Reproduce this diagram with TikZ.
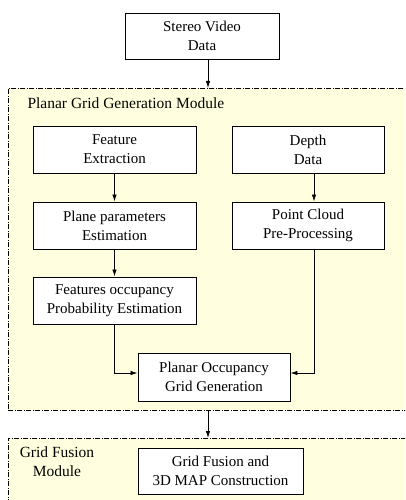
\documentclass[tikz,border=0pt]{standalone}
\usepackage{fontspec}
\setmainfont{Liberation Serif}
\usepackage{tikz}
\usetikzlibrary{positioning, arrows.meta}

\definecolor{modfill}{HTML}{FFFFDF}

\begin{document}
\begin{tikzpicture}[
    x=1pt, y=-1pt,
    >={Latex[length=7pt, width=4.5pt]},
    block/.style={draw, line width=0.9pt, fill=white, minimum height=47pt, minimum width=163pt, align=center, font=\fontsize{15}{19}\selectfont, inner sep=0pt},
    module/.style={draw, line width=0.8pt, fill=modfill, dash pattern={on 5pt off 1.5pt on 1pt off 1.5pt}, anchor=north west, inner sep=0pt},
    label/.style={font=\fontsize{15.5}{19}\selectfont, align=center},
    arrow/.style={->, line width=0.8pt},
]
\clip (0,0) rectangle (405,500);
\fill[white] (0,0) rectangle (405,500);

% Modules
\node[module, minimum width=410pt, minimum height=322pt] (pgm) at (8,88) {};
\node[label, anchor=west] (pgmlabel) at (24,103) {Planar Grid Generation Module};
\node[module, minimum width=410pt, minimum height=100pt] (gfm) at (8,438) {};
\node[label] (gfmlabel) at (57,462) {Grid Fusion\\Module};

% Input
\node[block, minimum width=154pt, minimum height=46pt] (svd) at (202,36) {Stereo Video\\Data};
\coordinate (spine) at (208,0);

% Feature branch
\node[block] (feat) at (114.5,149.5) {Feature\\Extraction};
\node[block] (plane) at (114.5,225.5) {Plane parameters\\Estimation};
\node[block] (occ) at (114.5,300.5) {Features occupancy\\Probability Estimation};

% Depth branch
\node[block, minimum width=152pt] (depth) at (308,149.5) {Depth\\Data};
\node[block, minimum width=152pt] (cloud) at (308,225.5) {Point Cloud\\Pre-Processing};

% Planar grid
\node[block, minimum width=152pt, minimum height=48pt] (pogg) at (214,377) {Planar Occupancy\\Grid Generation};

% Grid fusion
\node[block, minimum width=165pt, minimum height=46pt] (fuse) at (220.5,471) {Grid Fusion and\\3D MAP Construction};

% Connectors
\draw[arrow] (svd.south -| spine) -- (pgm.north -| spine);
\draw[arrow] (feat) -- (plane);
\draw[arrow] (plane) -- (occ);
\draw[arrow] ([xshift=6pt]depth.south) -- ([xshift=6pt]cloud.north);
\draw[arrow] (occ.south) |- ([yshift=4pt]pogg.west);
\draw[arrow] ([xshift=6pt]cloud.south) |- ([yshift=4pt]pogg.east);
\draw[arrow] (pgm.south -| spine) -- (gfm.north -| spine);

\end{tikzpicture}
\end{document}
